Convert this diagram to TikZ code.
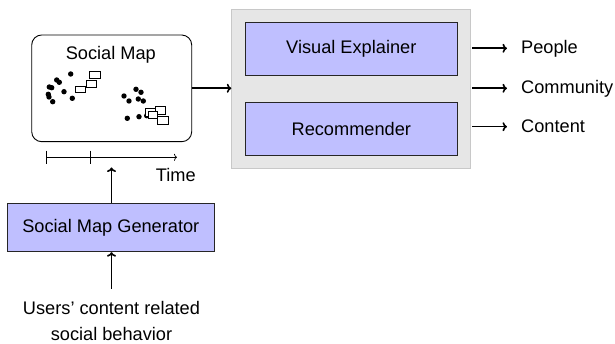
\documentclass[tikz,border=0pt]{standalone}
\usepackage{fontspec}
\setmainfont{Liberation Sans}
\usetikzlibrary{arrows.meta}
\definecolor{lav}{RGB}{191,191,255}
\definecolor{panel}{RGB}{230,230,230}
\definecolor{panelborder}{RGB}{200,200,200}
\begin{document}
\begin{tikzpicture}[x=1pt,y=-1pt,
  txt/.style={font=\fontsize{18.2}{21}\selectfont, inner sep=0pt},
  blockbox/.style={draw=black!85, line width=0.9pt, fill=lav, minimum width=212.7pt, minimum height=53pt, font=\fontsize{18.2}{21}\selectfont},
  conn/.style={line width=1.6pt, -{To[length=4.5pt,width=9pt]}},
  sq/.style={draw=black, fill=white, line width=0.7pt}]
\useasboundingbox (0,0) rectangle (615,344);
% social map
\draw[line width=0.9pt, rounded corners=10pt] (31.7,35) rectangle (191.7,141.7);
\coordinate (mapR) at (191.7,88.3);
\node[txt] (maptitle) at (110.8,55) {Social Map};
\foreach \p in {(70.7,74),(56.7,80),(59.3,82.3),(49.3,87),(51.7,87.7),(48.3,94.3),(49,97),(52.7,101.7),(64,91.7),(72.3,98.3),
  (124,96),(129,101),(136,89.3),(141,92.3),(138.3,99),(143.3,101),(127.3,118.3),(139,116.7),(146.7,115.7)}
  \fill \p circle (2.7);
\draw[sq] (75,86.7) rectangle (85,92.7);
\draw[sq] (86.7,80) rectangle (96.7,87.7);
\draw[sq] (89.3,71) rectangle (100,78.3);
\draw[sq] (145,108.3) rectangle (155,116.7);
\draw[sq] (155.7,106.7) rectangle (165.7,114.3);
\draw[sq] (148.3,111) rectangle (157.7,118.3);
\draw[sq] (157.7,116) rectangle (168.3,124.3);
% timeline
\coordinate (t0) at (46.7,157.3);
\coordinate (t1) at (177,157.3);
\draw[line width=0.7pt, -{To[length=3pt,width=7pt]}] (t0) -- (t1);
\draw[line width=0.8pt] (46.7,150.7) -- (46.7,164);
\draw[line width=1pt] (90.7,150.7) -- (90.7,164);
\node[txt] (time) at (175.8,175) {Time};
\coordinate (tl) at (111.5,167.5);
% generator
\node[blockbox, minimum width=207pt, minimum height=48.4pt] (gen) at (110.8,227.5) {Social Map Generator};
\draw[conn] (gen.north -| tl) -- (tl);
\node[txt, align=center] (users) at (111.5,307.5) {Users' content related};
\node[txt] (users2) at (111.5,334) {social behavior};
\draw[conn] (111.5,289) -- (gen.south -| users.north);
% panel
\node[draw=panelborder, fill=panel, line width=0.8pt, minimum width=239pt, minimum height=159pt] (panel) at (351.2,88.8) {};
\node[blockbox] (ve) at (351.3,49.2) {Visual Explainer};
\node[blockbox, minimum height=52.7pt] (rec) at (351.3,128.7) {Recommender};
\draw[conn] (mapR) -- (mapR -| panel.west);
% outputs
\node[txt, anchor=west] (people) at (521,48.3) {People};
\node[txt, anchor=west] (community) at (521,88.3) {Community};
\node[txt, anchor=west] (content) at (521,126.7) {Content};
\draw[conn] (people.west -| panel.east) ++(1,0) -- ([xshift=-14pt]people.west);
\draw[conn] (community.west -| panel.east) ++(1,0) -- ([xshift=-14pt]community.west);
\draw[conn] (content.west -| panel.east) ++(1,0) -- ([xshift=-14pt]content.west);
\end{tikzpicture}
\end{document}
